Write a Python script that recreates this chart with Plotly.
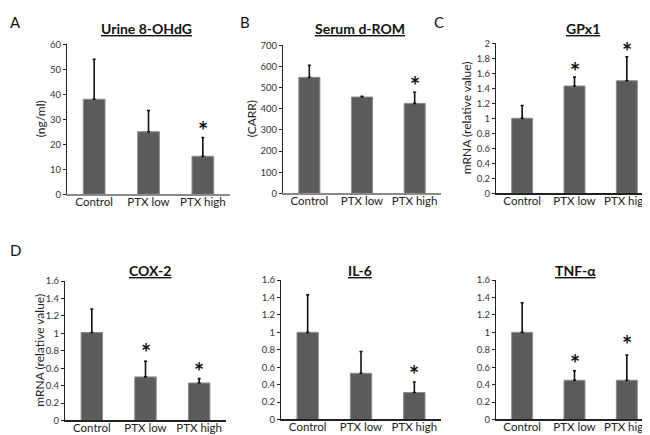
import plotly.graph_objects as go

categories = ["Control", "PTX low", "PTX high"]

urine_vals = [38, 25, 15.2]
urine_err = [16, 8.5, 7.5]
urine_star = [None, None, 27.5]

drom_vals = [548, 455, 425]
drom_err = [57, 3, 53]
drom_star = [None, None, 535]

gpx_vals = [1.0, 1.43, 1.5]
gpx_err = [0.17, 0.12, 0.32]
gpx_star = [None, 1.69, 1.96]

cox_vals = [1.01, 0.5, 0.43]
cox_err = [0.27, 0.18, 0.05]
cox_star = [None, 0.84, 0.62]

il6_vals = [1.0, 0.53, 0.31]
il6_err = [0.43, 0.25, 0.12]
il6_star = [None, None, 0.57]

tnf_vals = [1.0, 0.45, 0.45]
tnf_err = [0.34, 0.11, 0.29]
tnf_star = [None, 0.70, 0.92]

W, H = 650, 435
FONT = "Lato, 'Open Sans', sans-serif"

panels = [
    dict(vals=urine_vals, err=urine_err, star=urine_star, title="Urine 8-OHdG", letter="A",
         ytitle="(ng/ml)", yr=60, dt=10, x0=59, x1=222, ytop=31, ybot=185, xcol="#8a8a8a",
         tx=138, ty=15, lx=7, ly=8, ytx=32),
    dict(vals=drom_vals, err=drom_err, star=drom_star, title="Serum d-ROM", letter="B",
         ytitle="(CARR)", yr=700, dt=100, x0=275, x1=433, ytop=32, ybot=184, xcol="#8a8a8a",
         tx=352, ty=15, lx=237, ly=8, ytx=243),
    dict(vals=gpx_vals, err=gpx_err, star=gpx_star, title="GPx1", letter="C",
         ytitle="mRNA (relative value)", yr=2, dt=0.2, x0=488, x1=645, ytop=30, ybot=184, xcol="#222",
         tx=575, ty=15, lx=431, ly=8, ytx=458),
    dict(vals=cox_vals, err=cox_err, star=cox_star, title="COX-2", letter="D",
         ytitle="mRNA (relative value)", yr=1.6, dt=0.2, x0=57, x1=218, ytop=274, ybot=417, xcol="#222",
         tx=142, ty=263, lx=7, ly=242, ytx=32),
    dict(vals=il6_vals, err=il6_err, star=il6_star, title="IL-6", letter=None,
         ytitle=None, yr=1.6, dt=0.2, x0=273, x1=433, ytop=273, ybot=416, xcol="#222",
         tx=352, ty=263, lx=None, ly=None, ytx=None),
    dict(vals=tnf_vals, err=tnf_err, star=tnf_star, title="TNF-α", letter=None,
         ytitle=None, yr=1.6, dt=0.2, x0=488, x1=645, ytop=273, ybot=416, xcol="#222",
         tx=567, ty=263, lx=None, ly=None, ytx=None),
]

fig = go.Figure()
annotations = []
layout = {}

for i, p in enumerate(panels, start=1):
    xa = "x" if i == 1 else f"x{i}"
    ya = "y" if i == 1 else f"y{i}"
    fig.add_trace(go.Bar(
        x=categories, y=p["vals"], xaxis=xa, yaxis=ya,
        marker=dict(color="#5b5b5b", line=dict(color="#8c8c8c", width=1)),
        error_y=dict(type="data", symmetric=False, array=p["err"],
                     arrayminus=[0] * len(p["err"]), color="#111", thickness=1.6, width=1.5),
        showlegend=False,
    ))
    yd = [(H - p["ybot"]) / H, (H - p["ytop"]) / H]
    xd = [p["x0"] / W, p["x1"] / W]
    layout["xaxis" if i == 1 else f"xaxis{i}"] = dict(
        domain=xd, anchor=ya, showline=True, linecolor=p["xcol"], linewidth=1.5,
        ticks="", ticklabelstandoff=-4,
        tickfont=dict(size=11.5, color="#222", family=FONT), showgrid=False,
        range=[-0.5, 2.5])
    layout["yaxis" if i == 1 else f"yaxis{i}"] = dict(
        domain=yd, anchor=xa, range=[0, p["yr"]], dtick=p["dt"], showline=True,
        linecolor="#222", linewidth=1.2, ticks="outside", ticklen=3, tickcolor="#222",
        tickfont=dict(size=9.5, color="#333", family=FONT), showgrid=False, zeroline=False)
    for c, s in zip(categories, p["star"]):
        if s is not None:
            annotations.append(dict(x=c, y=s, xref=xa, yref=ya, text="<b>*</b>",
                                    showarrow=False, font=dict(size=24, color="#111", family=FONT),
                                    yanchor="middle", yshift=-5))
    annotations.append(dict(x=p["tx"] / W, y=1 - p["ty"] / H, xref="paper", yref="paper",
                            text=f"<b><u>{p['title']}</u></b>", showarrow=False,
                            font=dict(size=14, color="#111", family=FONT),
                            xanchor="center", yanchor="middle"))
    if p["letter"]:
        annotations.append(dict(x=p["lx"] / W, y=1 - p["ly"] / H, xref="paper", yref="paper",
                                text=p["letter"], showarrow=False,
                                font=dict(size=15, color="#111", family=FONT),
                                xanchor="center", yanchor="middle"))
    if p["ytitle"]:
        annotations.append(dict(x=p["ytx"] / W, y=(yd[0] + yd[1]) / 2, xref="paper", yref="paper",
                                text=p["ytitle"], showarrow=False, textangle=-90,
                                font=dict(size=12, color="#222", family=FONT),
                                xanchor="center", yanchor="middle"))

fig.update_layout(
    width=W, height=H, margin=dict(l=0, r=0, t=0, b=0),
    paper_bgcolor="white", plot_bgcolor="white", bargap=0.6,
    annotations=annotations, **layout,
)

fig.write_html("out.html")
